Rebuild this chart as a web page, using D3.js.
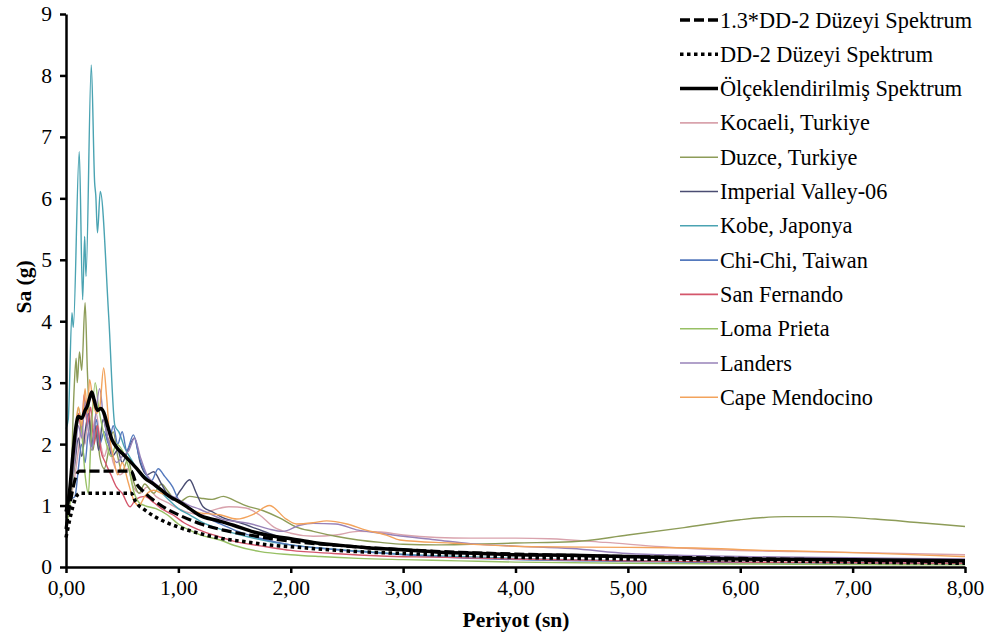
<!DOCTYPE html>
<html>
<head>
<meta charset="utf-8">
<script src="https://d3js.org/d3.v7.min.js"></script>
<style>
body {margin: 0; background: #fff;}
text {font-family: "Liberation Serif", "Times New Roman", serif; fill: #000;}
</style>
</head>
<body>
<svg id="chart" width="995" height="641"></svg>
<script>
// periods (s) and Sa (g), one array per curve
var dd2x13 = [[0,0.62],[0.12,1.56],[0.58,1.56],[0.62,1.38],[0.7,1.21],[0.8,1.06],[0.9,0.94],[1.0,0.85],[1.2,0.7],[1.4,0.6],[1.6,0.53],[1.8,0.47],[2.0,0.42],[2.5,0.34],[3.0,0.28],[3.5,0.24],[4.0,0.21],[5.0,0.17],[6.0,0.14],[7.0,0.11],[8.0,0.085]];
var dd2 = [[0,0.48],[0.12,1.2],[0.58,1.2],[0.62,1.06],[0.7,0.93],[0.8,0.81],[0.9,0.72],[1.0,0.65],[1.2,0.54],[1.4,0.46],[1.6,0.41],[1.8,0.36],[2.0,0.33],[2.5,0.26],[3.0,0.22],[3.5,0.19],[4.0,0.16],[5.0,0.13],[6.0,0.11],[7.0,0.08],[8.0,0.06]];
var scaled = [[0,0.9],[0.03,1.2],[0.06,1.8],[0.09,2.3],[0.11,2.45],[0.14,2.42],[0.17,2.55],[0.19,2.62],[0.21,2.75],[0.23,2.85],[0.25,2.72],[0.28,2.55],[0.31,2.58],[0.335,2.52],[0.37,2.3],[0.41,2.07],[0.45,1.95],[0.5,1.85],[0.56,1.74],[0.63,1.6],[0.7,1.45],[0.78,1.35],[0.85,1.25],[0.92,1.15],[1.0,1.07],[1.1,0.95],[1.19,0.84],[1.34,0.76],[1.49,0.68],[1.67,0.57],[1.85,0.5],[2.0,0.46],[2.2,0.4],[2.4,0.36],[2.7,0.31],[3.0,0.28],[3.33,0.24],[3.7,0.22],[4.0,0.2],[4.5,0.19],[5.0,0.17],[5.6,0.14],[6.0,0.13],[7.0,0.12],[8.0,0.1]];
var kocaeli = [[0,0.85],[0.04,1.1],[0.08,1.5],[0.11,1.9],[0.14,2.3],[0.17,2.0],[0.2,2.6],[0.23,2.2],[0.27,2.5],[0.3,2.1],[0.34,1.8],[0.38,2.0],[0.42,1.7],[0.48,1.5],[0.55,1.6],[0.6,1.3],[0.66,1.2],[0.72,1.3],[0.8,1.15],[0.9,1.05],[1.0,0.95],[1.1,0.88],[1.2,0.85],[1.3,0.92],[1.45,0.98],[1.6,0.96],[1.72,0.85],[1.85,0.65],[2.0,0.55],[2.2,0.5],[2.4,0.52],[2.6,0.58],[2.8,0.57],[3.0,0.52],[3.3,0.48],[3.6,0.47],[4.0,0.47],[4.3,0.46],[4.8,0.4],[5.3,0.33],[5.8,0.28],[6.5,0.25],[7.2,0.23],[8.0,0.2]];
var duzce = [[0,0.7],[0.04,1.2],[0.07,2.8],[0.09,3.4],[0.1,3.0],[0.12,3.5],[0.14,3.2],[0.17,4.3],[0.19,3.2],[0.21,2.4],[0.24,1.9],[0.27,2.3],[0.3,1.8],[0.34,1.6],[0.38,1.9],[0.42,2.2],[0.46,1.8],[0.5,1.55],[0.55,1.75],[0.6,1.4],[0.65,1.2],[0.7,1.35],[0.78,1.2],[0.85,1.35],[0.9,1.25],[1.0,1.05],[1.1,1.15],[1.2,1.12],[1.3,1.1],[1.4,1.15],[1.5,1.08],[1.6,1.0],[1.75,0.92],[1.9,0.8],[2.05,0.65],[2.2,0.58],[2.4,0.5],[2.6,0.44],[2.8,0.4],[3.0,0.37],[3.3,0.36],[3.6,0.37],[4.0,0.39],[4.5,0.41],[5.0,0.52],[5.5,0.64],[6.0,0.77],[6.4,0.82],[6.8,0.82],[7.2,0.78],[7.6,0.72],[8.0,0.66]];
var imperial = [[0,0.95],[0.04,1.2],[0.08,1.7],[0.11,2.1],[0.14,1.8],[0.17,2.2],[0.2,2.5],[0.23,2.0],[0.26,2.3],[0.29,1.9],[0.33,2.4],[0.37,2.1],[0.41,1.8],[0.46,1.9],[0.5,1.7],[0.55,1.9],[0.61,2.1],[0.66,1.7],[0.72,1.5],[0.78,1.55],[0.85,1.35],[0.95,1.09],[1.02,1.25],[1.1,1.42],[1.16,1.2],[1.22,0.98],[1.3,0.9],[1.4,0.8],[1.55,0.72],[1.7,0.62],[1.85,0.52],[2.0,0.45],[2.3,0.38],[2.6,0.32],[3.0,0.27],[3.5,0.23],[4.0,0.2],[5.0,0.16],[6.0,0.13],[7.0,0.11],[8.0,0.1]];
var kobe = [[0,2.25],[0.02,2.4],[0.053,4.14],[0.065,3.9],[0.118,6.76],[0.148,4.35],[0.166,5.38],[0.178,4.73],[0.225,8.17],[0.255,6.25],[0.265,6.05],[0.28,5.44],[0.305,6.11],[0.38,4.08],[0.435,2.3],[0.47,2.2],[0.52,1.95],[0.58,1.75],[0.65,1.55],[0.72,1.45],[0.8,1.3],[0.9,1.12],[1.0,0.95],[1.1,0.85],[1.2,0.74],[1.4,0.6],[1.6,0.5],[1.8,0.42],[2.0,0.36],[2.3,0.3],[2.6,0.26],[3.0,0.21],[3.5,0.17],[4.0,0.14],[5.0,0.1],[6.0,0.08],[7.0,0.06],[8.0,0.05]];
var chichi = [[0,1.0],[0.04,1.1],[0.08,1.15],[0.11,1.6],[0.14,2.0],[0.17,1.7],[0.2,2.2],[0.23,1.96],[0.27,2.4],[0.3,2.0],[0.34,2.2],[0.38,2.0],[0.42,2.3],[0.46,2.0],[0.5,2.2],[0.54,1.9],[0.6,2.15],[0.65,1.8],[0.7,1.55],[0.76,1.4],[0.82,1.6],[0.88,1.47],[0.95,1.3],[1.0,1.1],[1.1,0.95],[1.2,0.85],[1.35,0.72],[1.5,0.6],[1.7,0.48],[2.0,0.36],[2.3,0.3],[2.6,0.25],[3.0,0.2],[3.5,0.15],[4.0,0.12],[5.0,0.09],[6.0,0.07],[7.0,0.06],[8.0,0.05]];
var sanFernando = [[0,0.9],[0.04,1.3],[0.08,2.0],[0.11,2.5],[0.14,2.2],[0.16,2.8],[0.19,2.3],[0.22,2.6],[0.25,2.0],[0.28,2.3],[0.31,1.9],[0.35,1.7],[0.4,1.5],[0.45,1.3],[0.5,1.2],[0.57,0.98],[0.62,1.1],[0.7,1.15],[0.78,1.05],[0.85,0.95],[0.95,0.85],[1.05,0.72],[1.19,0.6],[1.35,0.5],[1.49,0.42],[1.78,0.33],[2.0,0.27],[2.38,0.22],[2.8,0.18],[3.27,0.16],[4.0,0.13],[5.0,0.1],[6.0,0.08],[7.0,0.07],[8.0,0.06]];
var lomaPrieta = [[0,0.6],[0.04,1.1],[0.08,1.8],[0.11,2.6],[0.14,2.2],[0.17,1.5],[0.2,1.2],[0.22,2.0],[0.26,3.0],[0.29,2.6],[0.32,2.3],[0.36,2.0],[0.4,1.8],[0.45,2.0],[0.5,1.9],[0.56,1.6],[0.6,1.25],[0.65,1.05],[0.7,1.0],[0.8,0.95],[0.9,0.85],[1.0,0.7],[1.1,0.6],[1.2,0.52],[1.37,0.44],[1.5,0.35],[1.73,0.25],[2.0,0.2],[2.26,0.17],[2.6,0.14],[3.0,0.12],[3.5,0.1],[4.0,0.08],[5.0,0.06],[6.0,0.05],[7.0,0.04],[8.0,0.035]];
var landers = [[0,0.8],[0.04,1.2],[0.08,1.8],[0.11,2.3],[0.14,2.1],[0.17,2.7],[0.2,2.2],[0.23,1.9],[0.26,2.4],[0.3,2.9],[0.33,2.5],[0.36,2.2],[0.4,1.9],[0.45,1.7],[0.5,1.8],[0.56,1.9],[0.61,2.1],[0.66,1.8],[0.72,1.5],[0.8,1.35],[0.9,1.2],[1.0,1.1],[1.1,1.0],[1.19,0.94],[1.3,0.85],[1.4,0.77],[1.52,0.74],[1.65,0.7],[1.8,0.62],[1.93,0.58],[2.08,0.68],[2.2,0.71],[2.4,0.7],[2.6,0.6],[2.8,0.55],[3.0,0.5],[3.3,0.44],[3.6,0.38],[4.0,0.34],[4.5,0.3],[5.0,0.22],[5.5,0.19],[6.0,0.17],[7.0,0.15],[8.0,0.13]];
var capeMendocino = [[0,1.0],[0.04,1.4],[0.08,2.2],[0.11,2.6],[0.14,2.3],[0.17,2.9],[0.19,2.5],[0.21,3.05],[0.24,2.7],[0.27,2.5],[0.3,2.6],[0.335,3.24],[0.36,2.8],[0.39,2.1],[0.42,1.8],[0.46,1.5],[0.5,1.7],[0.55,1.4],[0.6,1.1],[0.65,1.0],[0.7,1.15],[0.78,1.25],[0.85,1.2],[0.92,1.15],[1.0,1.05],[1.1,0.95],[1.19,0.88],[1.37,0.85],[1.52,0.78],[1.67,0.86],[1.81,1.0],[1.96,0.78],[2.05,0.7],[2.2,0.72],[2.32,0.75],[2.5,0.7],[2.67,0.6],[2.85,0.52],[2.97,0.44],[3.42,0.39],[4.15,0.33],[5.0,0.32],[5.6,0.31],[6.2,0.27],[6.73,0.25],[7.4,0.21],[8.0,0.17]];

var yTicks = [0,1,2,3,4,5,6,7,8,9];
var xTicks = [0,1,2,3,4,5,6,7,8];

var records = [
    {name: "Kocaeli, Turkiye", data: kocaeli, color: "#d9a3ad"},
    {name: "Duzce, Turkiye", data: duzce, color: "#8d9c58"},
    {name: "Imperial Valley-06", data: imperial, color: "#4a4d72"},
    {name: "Kobe, Japonya", data: kobe, color: "#4aa3b2"},
    {name: "Chi-Chi, Taiwan", data: chichi, color: "#5479bd"},
    {name: "San Fernando", data: sanFernando, color: "#d4566b"},
    {name: "Loma Prieta", data: lomaPrieta, color: "#97c064"},
    {name: "Landers", data: landers, color: "#9782b8"},
    {name: "Cape Mendocino", data: capeMendocino, color: "#f3a35c"}
];
var design = [
    {name: "1.3*DD-2 Düzeyi Spektrum", data: dd2x13, dash: "10,4"},
    {name: "DD-2 Düzeyi Spektrum", data: dd2, dash: "3.5,3.5"},
    {name: "Ölçeklendirilmiş Spektrum", data: scaled, dash: null}
];

var svg = d3.select("#chart");
var x = d3.scaleLinear().domain([0, 8]).range([66, 965]);
var y = d3.scaleLinear().domain([0, 9]).range([567, 14]);

var line = d3.line()
    .x(function(d){return x(d[0]);})
    .y(function(d){return y(d[1]);})
    .curve(d3.curveMonotoneX);

// records
svg.append("g").selectAll("path")
    .data(records)
    .enter().append("path")
    .attr("d", function(d){return line(d.data);})
    .attr("fill", "none")
    .attr("stroke", function(d){return d.color;})
    .attr("stroke-width", 1.4);

// scaled mean and code spectra on top
svg.append("path")
    .attr("d", line(scaled))
    .attr("fill", "none").attr("stroke", "#000").attr("stroke-width", 3.5);
svg.append("path")
    .attr("d", line(dd2x13))
    .attr("fill", "none").attr("stroke", "#000").attr("stroke-width", 3.2)
    .attr("stroke-dasharray", "10,4");
svg.append("path")
    .attr("d", line(dd2))
    .attr("fill", "none").attr("stroke", "#000").attr("stroke-width", 3.5)
    .attr("stroke-dasharray", "3.5,3.5");

// axes
var xAxis = svg.append("g")
    .attr("transform", "translate(0," + y(0) + ")")
    .call(d3.axisBottom(x).tickValues(xTicks).tickSize(6).tickSizeOuter(0)
        .tickFormat(function(d){return d3.format(".2f")(d).replace(".", ",");}));
var yAxis = svg.append("g")
    .attr("transform", "translate(" + x(0) + ",0)")
    .call(d3.axisLeft(y).tickValues(yTicks).tickSize(6).tickSizeOuter(0));

svg.selectAll(".domain").attr("stroke", "#000").attr("stroke-width", 2.5);
svg.selectAll(".tick line").attr("stroke", "#000").attr("stroke-width", 2.5);
svg.selectAll(".tick text").attr("font-size", 21.5).attr("fill", "#000");
xAxis.selectAll(".tick text").attr("dy", "0.9em").attr("y", 9);
yAxis.selectAll(".tick text").attr("x", -14);

svg.append("text")
    .attr("x", 516).attr("y", 627)
    .attr("text-anchor", "middle")
    .attr("font-size", 21.5).attr("font-weight", "bold")
    .text("Periyot (sn)");
svg.append("text")
    .attr("transform", "translate(31,287) rotate(-90)")
    .attr("text-anchor", "middle")
    .attr("font-size", 21.5).attr("font-weight", "bold")
    .text("Sa (g)");

// legend
var legendItems = design.map(function(d){return {name: d.name, color: "#000", dash: d.dash, width: 3.5};})
    .concat(records.map(function(d){return {name: d.name, color: d.color, dash: null, width: 1.6};}));
var legend = svg.append("g").selectAll("g")
    .data(legendItems)
    .enter().append("g")
    .attr("transform", function(d,i){return "translate(680," + (20 + 34.3*i) + ")";});
legend.append("line")
    .attr("x1", 0).attr("x2", 38).attr("y1", 0).attr("y2", 0)
    .attr("stroke", function(d){return d.color;})
    .attr("stroke-width", function(d){return d.width;})
    .attr("stroke-dasharray", function(d){return d.dash;});
legend.append("text")
    .attr("x", 40).attr("y", 7.5)
    .attr("font-size", 22.3)
    .text(function(d){return d.name;});
</script>
</body>
</html>
